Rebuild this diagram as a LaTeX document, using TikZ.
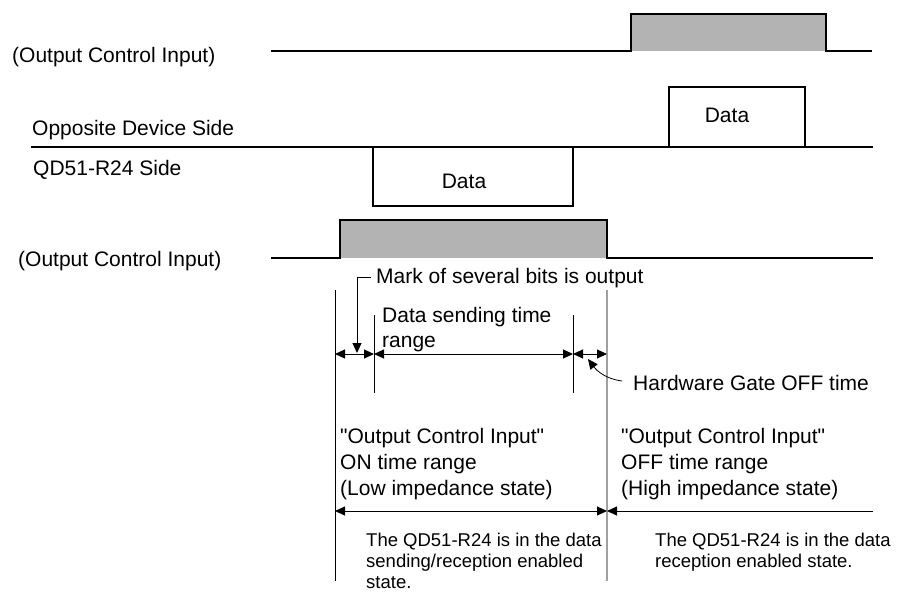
\documentclass[tikz,border=0pt]{standalone}
\usepackage{fontspec}
\setmainfont{Liberation Sans}[Ligatures=TeXOff]
\usetikzlibrary{arrows.meta}
\definecolor{sigfill}{RGB}{179,179,179}
\definecolor{guide}{RGB}{160,160,160}
\begin{document}
\begin{tikzpicture}[x=1pt,y=-1pt,
  sig/.style={line width=2pt, line join=miter},
  ann/.style={line width=1pt},
  dim/.style={ann, {Triangle[length=10pt,width=9pt]}-{Triangle[length=10pt,width=9pt]}},
  big/.style={font=\fontsize{21}{25}\selectfont, inner sep=0pt, anchor=base west},
  small/.style={font=\fontsize{18.5}{22}\selectfont, inner sep=0pt, anchor=base west}]
\useasboundingbox (0,0) rectangle (903,592);

% ---- top Output Control Input ----
\node[big] (ociA) at (12,62) {(Output Control Input)};
\fill[sigfill] (631,14) rectangle (826,51);
\draw[sig] (271,51) -- (631,51) -- (631,14) -- (826,14) -- (826,51) -- (872,51);

% ---- data line ----
\node[big] (opp) at (32,135) {Opposite Device Side};
\node[big] (qd) at (33,175) {QD51-R24 Side};
\draw[sig] (31,147) -- (873,147);
\draw[sig] (669,147) -- (669,87) -- (805,87) -- (805,147);
\node[big, anchor=base] (dataA) at (727,122) {Data};
\draw[sig] (373,147) -- (373,206) -- (573,206) -- (573,147);
\node[big, anchor=base] (dataB) at (464,188) {Data};

% ---- bottom Output Control Input ----
\node[big] (ociB) at (18,266) {(Output Control Input)};
\fill[sigfill] (340,220) rectangle (607,258);
\draw[sig] (271,258) -- (340,258) -- (340,220) -- (607,220) -- (607,258) -- (873,258);

% ---- guide lines ----
\coordinate (gL1) at (335,290); \coordinate (gL2) at (335,581);
\coordinate (gR1) at (607,290); \coordinate (gR2) at (607,581);
\coordinate (gA1) at (374,315); \coordinate (gA2) at (374,393);
\coordinate (gB1) at (573,315); \coordinate (gB2) at (573,393);
\draw[ann] (gL1) -- (gL2);
\draw[guide, line width=1.3pt] (gR1) -- (gR2);
\draw[ann] (gA1) -- (gA2);
\draw[ann] (gB1) -- (gB2);

% ---- dimension row ----
\coordinate (d1) at (335,354); \coordinate (d2) at (374,354);
\coordinate (d3) at (573,354); \coordinate (d4) at (607,354);
\draw[dim] (d1) -- (d2);
\draw[dim] (d2) -- (d3);
\draw[dim] (d3) -- (d4);

% mark of several bits
\node[big] (mark) at (376,283) {Mark of several bits is output};
\coordinate (mk1) at (371,277); \coordinate (mk2) at (357,277); \coordinate (mk3) at (357,353);
\draw[ann, -{Triangle[length=10pt,width=9pt]}] (mk1) -- (mk2) -- (mk3);

% data sending time range
\node[big] (ds1) at (382,322) {Data sending time};
\node[big] (ds2) at (382,347) {range};

% hardware gate off time
\node[big] (hw) at (633,390) {Hardware Gate OFF time};
\coordinate (hw0) at (622,381); \coordinate (hwt) at (588,359);
\draw[line width=0.8pt, -{Triangle[length=10pt,width=9pt]}] (hw0) .. controls (606,379) and (597,371) .. (hwt);

% ---- ON / OFF ranges ----
\node[big] (on1) at (340,443) {"Output Control Input"};
\node[big] (on2) at (340,469) {ON time range};
\node[big] (on3) at (340,495) {(Low impedance state)};
\node[big] (off1) at (621,443) {"Output Control Input"};
\node[big] (off2) at (621,469) {OFF time range};
\node[big] (off3) at (621,495) {(High impedance state)};

\coordinate (r1) at (335,511); \coordinate (r2) at (607,511); \coordinate (r3) at (873,511);
\draw[dim] (r1) -- (r2);
\draw[ann, {Triangle[length=10pt,width=9pt]}-] (r2) -- (r3);

\node[small] (st1) at (366,546) {The QD51-R24 is in the data};
\node[small] (st2) at (366,567) {sending/reception enabled};
\node[small] (st3) at (366,588) {state.};
\node[small] (sr1) at (655,546) {The QD51-R24 is in the data};
\node[small] (sr2) at (655,567) {reception enabled state.};
\end{tikzpicture}
\end{document}
